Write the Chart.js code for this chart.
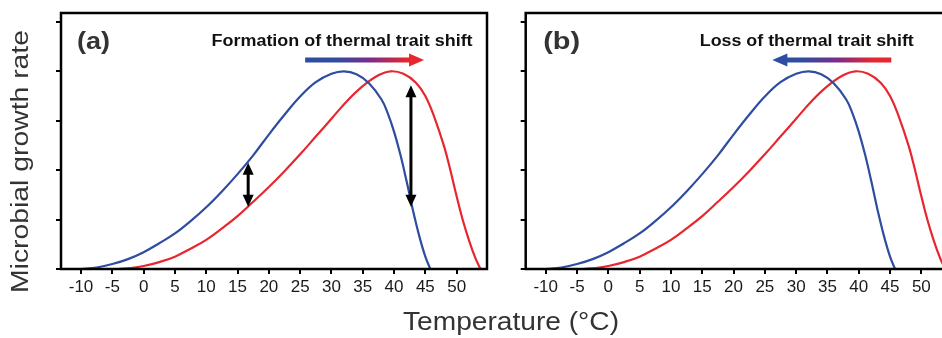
<!DOCTYPE html>
<html>
<head>
<meta charset="utf-8">
<script src="https://cdn.jsdelivr.net/npm/chart.js@4.4.0/dist/chart.umd.min.js"></script>
<style>
  html, body { margin: 0; padding: 0; background: #fff; overflow: hidden; width: 942px; height: 338px; }
  canvas { position: absolute; top: 0; }
  #chartA { left: 0; }
  #chartB { left: 470px; }
</style>
</head>
<body>
<canvas id="chartA" width="942" height="338"></canvas>
<canvas id="chartB" width="500" height="338"></canvas>
<script>
// thermal performance curves (same curves in both panels)
var blueTemp = [-10, -7.5, -5, -2.5, 0, 2.5, 5, 7.5, 10, 12.5, 15, 17.5, 20, 22.5, 25, 27.5, 30, 32, 34, 36, 38, 39, 40, 41, 42, 43, 44, 45, 45.8];
var blueRate = [0, 0.03, 0.1, 0.2, 0.34, 0.52, 0.72, 0.97, 1.25, 1.57, 1.92, 2.3, 2.72, 3.12, 3.49, 3.78, 3.95, 4.0, 3.94, 3.76, 3.43, 3.15, 2.78, 2.32, 1.78, 1.2, 0.68, 0.25, 0];
var redTemp = [-4, -2, 0, 2.5, 5, 7.5, 10, 12.5, 15, 17.5, 20, 22.5, 25, 27.5, 30, 32.5, 35, 37.5, 39.5, 41.5, 43.5, 45, 46.5, 48, 49, 50, 51, 52, 53, 53.8];
var redRate = [0, 0.02, 0.06, 0.14, 0.25, 0.41, 0.59, 0.82, 1.07, 1.36, 1.66, 1.98, 2.32, 2.68, 3.04, 3.4, 3.7, 3.92, 4.0, 3.95, 3.77, 3.5, 3.05, 2.48, 2.0, 1.47, 0.98, 0.57, 0.22, 0];

var xTicks = [-10, -5, 0, 5, 10, 15, 20, 25, 30, 35, 40, 45, 50];
var yTicks = [0, 1, 2, 3, 4, 5];

var BLUE = '#2e4da0';
var RED = '#e8262e';
var FONT = '"Liberation Sans", Arial, Helvetica, sans-serif';

function pts(xs, ys) {
    return xs.map(function (x, i) { return { x: x, y: ys[i] }; });
}

// draw text centred on (cx, cy), stretched to a given width
function fitText(ctx, text, cx, cy, font, width, color, rot) {
    ctx.save();
    ctx.translate(cx, cy);
    if (rot) ctx.rotate(rot);
    ctx.font = font;
    var w = ctx.measureText(text).width;
    ctx.scale(width / w, 1);
    ctx.fillStyle = color;
    ctx.textAlign = 'center';
    ctx.textBaseline = 'middle';
    ctx.fillText(text, 0, 0);
    ctx.restore();
}

function head(ctx, tipX, tipY, dx, dy, len, half) {
    // dx,dy unit direction of arrow
    ctx.beginPath();
    ctx.moveTo(tipX, tipY);
    ctx.lineTo(tipX - dx * len - dy * half, tipY - dy * len + dx * half);
    ctx.lineTo(tipX - dx * len + dy * half, tipY - dy * len - dx * half);
    ctx.closePath();
    ctx.fill();
}

function panelPlugin(panel) {
    return {
        id: 'panel',
        afterDatasetsDraw: function (chart) {
            var ctx = chart.ctx, a = chart.chartArea;
            var xs = chart.scales.x, ys = chart.scales.y;

            // frame
            ctx.save();
            ctx.strokeStyle = '#000';
            ctx.lineWidth = 2.5;
            ctx.strokeRect(a.left, a.top, a.right - a.left, a.bottom - a.top);

            // panel letter and heading
            fitText(ctx, panel.label, a.left + panel.labelOff, a.top + 29, 'bold 24px ' + FONT, panel.labelW, '#333');
            fitText(ctx, panel.text, xs.getPixelForValue(31.7), a.top + 29, 'bold 16px ' + FONT, panel.textW, '#111');

            // gradient shift arrow
            var x0 = xs.getPixelForValue(panel.shaft[0]);
            var x1 = xs.getPixelForValue(panel.shaft[1]);
            var y = ys.getPixelForValue(4.23);
            var g = ctx.createLinearGradient(x0, 0, x1, 0);
            g.addColorStop(0, BLUE);
            g.addColorStop(0.25, BLUE);
            g.addColorStop(0.55, '#7a2d8a');
            g.addColorStop(0.85, RED);
            g.addColorStop(1, RED);
            ctx.lineWidth = 5;
            ctx.strokeStyle = g;
            ctx.fillStyle = panel.dir > 0 ? RED : BLUE;
            ctx.beginPath();
            if (panel.dir > 0) {
                ctx.moveTo(x0, y); ctx.lineTo(x1 - 12, y); ctx.stroke();
                head(ctx, x1, y, 1, 0, 15, 6.5);
            } else {
                ctx.moveTo(x0 + 12, y); ctx.lineTo(x1, y); ctx.stroke();
                head(ctx, x0, y, -1, 0, 15, 6.5);
            }

            // double arrows between the curves
            ctx.strokeStyle = '#000';
            ctx.fillStyle = '#000';
            ctx.lineWidth = 3;
            (panel.gaps || []).forEach(function (d) {
                var px = xs.getPixelForValue(d[0]);
                var top = ys.getPixelForValue(d[1]);
                var bot = ys.getPixelForValue(d[2]);
                ctx.beginPath();
                ctx.moveTo(px, top + 8);
                ctx.lineTo(px, bot - 8);
                ctx.stroke();
                head(ctx, px, top, 0, -1, 12, 5.5);
                head(ctx, px, bot, 0, 1, 12, 5.5);
            });

            if (panel.titles) {
                fitText(ctx, 'Microbial growth rate', 22, 161.5, '23px ' + FONT, 263, '#333', -Math.PI / 2);
                fitText(ctx, 'Temperature (°C)', 511, 323, '25px ' + FONT, 216, '#333');
            }
            ctx.restore();
        }
    };
}

function makeChart(id, panel, yWidth, padRight) {
    return new Chart(document.getElementById(id).getContext('2d'), {
        type: 'line',
        data: {
            datasets: [{
                data: pts(blueTemp, blueRate),
                borderColor: BLUE,
                borderWidth: 2.2,
                pointRadius: 0,
                tension: 0.4,
                fill: false
            }, {
                data: pts(redTemp, redRate),
                borderColor: RED,
                borderWidth: 2.2,
                pointRadius: 0,
                tension: 0.4,
                fill: false
            }]
        },
        options: {
            responsive: false,
            animation: false,
            devicePixelRatio: 1,
            layout: { padding: { left: 0, top: 13, right: padRight, bottom: 0 } },
            plugins: { legend: { display: false }, tooltip: { enabled: false } },
            scales: {
                x: {
                    type: 'linear',
                    min: -13.2,
                    max: 54.85,
                    afterBuildTicks: function (s) { s.ticks = xTicks.map(function (v) { return { value: v }; }); },
                    afterFit: function (s) { s.height = 69; },
                    border: { display: false },
                    grid: { drawOnChartArea: false, drawTicks: true, tickLength: 5, lineWidth: 2, color: '#000' },
                    ticks: {
                        autoSkip: false,
                        maxRotation: 0,
                        padding: 3,
                        color: '#1a1a1a',
                        font: { family: FONT, size: 17 },
                        callback: function (v) { return String(v); }
                    }
                },
                y: {
                    min: 0,
                    max: 5.18,
                    afterBuildTicks: function (s) { s.ticks = yTicks.map(function (v) { return { value: v }; }); },
                    afterFit: function (s) { s.width = yWidth; },
                    border: { display: false },
                    grid: { drawOnChartArea: false, drawTicks: true, tickLength: 5, lineWidth: 2, color: '#000' },
                    ticks: { display: false }
                }
            }
        },
        plugins: [panelPlugin(panel)]
    });
}

makeChart('chartA', {
    label: '(a)', labelOff: 32.5, labelW: 33,
    text: 'Formation of thermal trait shift', textW: 261,
    dir: 1, shaft: [25.8, 44.8],
    gaps: [[16.7, 2.15, 1.26], [42.7, 3.72, 1.26]],
    titles: true
}, 61, 942 - 487);

makeChart('chartB', {
    label: '(b)', labelOff: 36, labelW: 37,
    text: 'Loss of thermal trait shift', textW: 214,
    dir: -1, shaft: [26.2, 45.2]
}, 55.7, 18.3);
</script>
</body>
</html>
